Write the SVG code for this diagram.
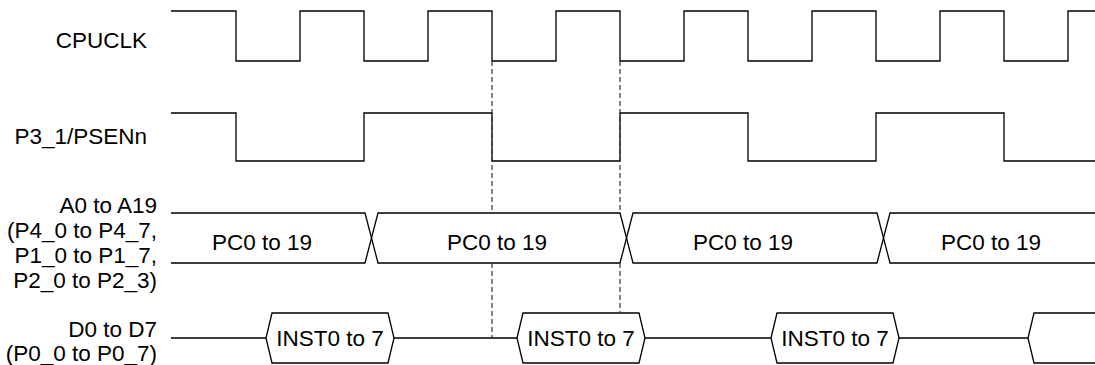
<svg xmlns="http://www.w3.org/2000/svg" width="1095" height="365" viewBox="0 0 1095 365">
<style>
.w{fill:none;stroke:#000;stroke-width:1.3;stroke-linejoin:miter}
.d{fill:none;stroke:#333;stroke-width:1.2;stroke-dasharray:5,3}
.t{font-family:"Liberation Sans",Arial,sans-serif;font-size:22.5px;fill:#000}
.e{text-anchor:end}
.m{text-anchor:middle}
</style>
<rect width="1095" height="365" fill="#fff"/>
<g id="cpuclk">
<text class="t e" x="147" y="48">CPUCLK</text>
<path class="w" d="M171,11H236V61H300V11H364V61H428V11H492V61H556V11H620V61H684V11H748V61H812V11H876V61H940V11H1004V61H1068V11H1095"/>
</g>
<g id="psenn">
<text class="t e" x="147" y="144">P3_1/PSENn</text>
<path class="w" d="M171,113H236V161H364V113H492V161H620V113H748V161H876V113H1004V161H1095"/>
</g>
<g id="addr">
<text class="t e" x="157" y="213">A0 to A19</text>
<text class="t e" x="157" y="238">(P4_0 to P4_7,</text>
<text class="t e" x="157" y="263">P1_0 to P1_7,</text>
<text class="t e" x="157" y="288">P2_0 to P2_3)</text>
<path class="w" d="M171,213H365L378,263H620L633,213H877L890,263H1095"/>
<path class="w" d="M171,263H365L378,213H620L633,263H877L890,213H1095"/>
<text class="t m" x="262" y="250">PC0 to 19</text>
<text class="t m" x="497" y="250">PC0 to 19</text>
<text class="t m" x="743" y="250">PC0 to 19</text>
<text class="t m" x="991" y="250">PC0 to 19</text>
</g>
<g id="data">
<text class="t e" x="157" y="337">D0 to D7</text>
<text class="t e" x="157" y="361">(P0_0 to P0_7)</text>
<path class="w" d="M171,338H266M394,338H517M645,338H771M899,338H1028"/>
<path class="w" d="M266,338L272,313H388L394,338L388,363H272Z"/>
<path class="w" d="M517,338L523,313H639L645,338L639,363H523Z"/>
<path class="w" d="M771,338L777,313H893L899,338L893,363H777Z"/>
<path class="w" d="M1095,313H1034L1028,338L1034,363H1095"/>
<text class="t m" x="330" y="346">INST0 to 7</text>
<text class="t m" x="581" y="346">INST0 to 7</text>
<text class="t m" x="835" y="346">INST0 to 7</text>
</g>
<g id="connectors">
<path class="d" d="M492,61V213M492,263V338"/>
<path class="d" d="M620,61V213M620,263V313"/>
</g>
</svg>
